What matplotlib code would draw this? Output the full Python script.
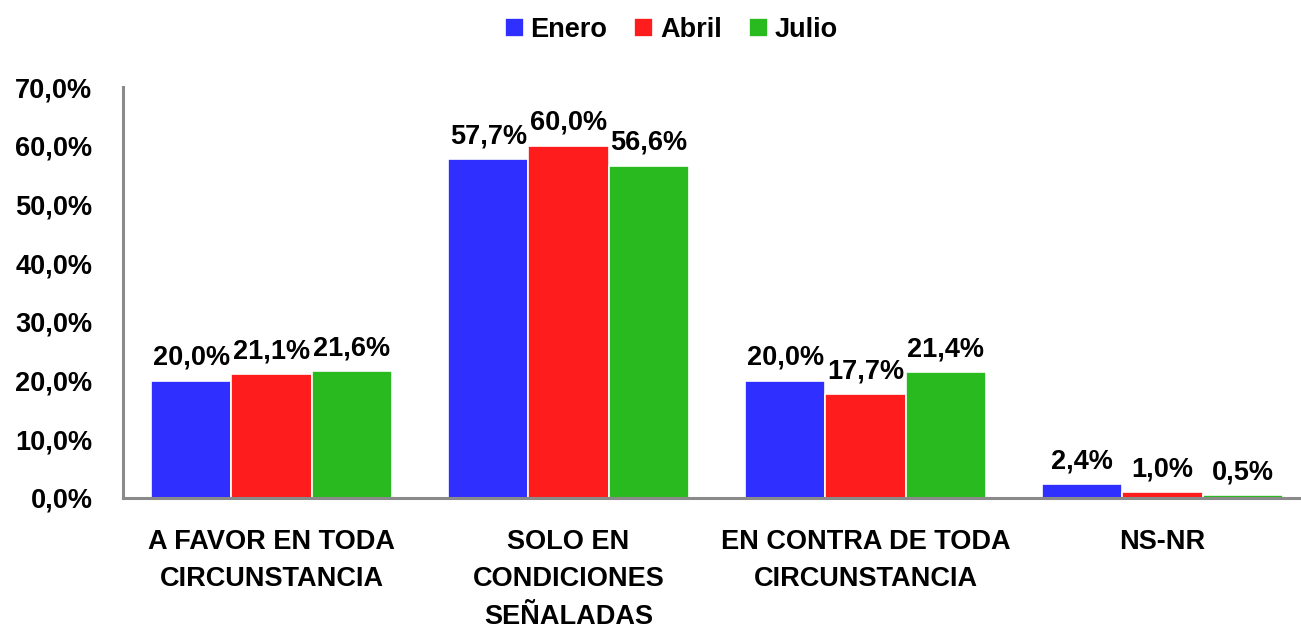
import matplotlib
matplotlib.use("Agg")
import matplotlib.pyplot as plt
import numpy as np

categories = ["A FAVOR EN TODA\nCIRCUNSTANCIA", "SOLO EN\nCONDICIONES\nSEÑALADAS",
              "EN CONTRA DE TODA\nCIRCUNSTANCIA", "NS-NR"]
series_names = ["Enero", "Abril", "Julio"]
enero = [20.0, 57.7, 20.0, 2.4]
abril = [21.1, 60.0, 17.7, 1.0]
julio = [21.6, 56.6, 21.4, 0.5]
yticks = [0, 10, 20, 30, 40, 50, 60, 70]

colors = ["#2F2FFF", "#FF1C1C", "#29BA1F"]

plt.rcParams['font.family'] = ['Liberation Sans', 'DejaVu Sans']
plt.rcParams['font.weight'] = 'bold'
FS = 19.5

fig = plt.figure(figsize=(13.01, 6.31), dpi=100)
ax = fig.add_axes([123/1301, 1-498/631, 1-123/1301, (498-87)/631])

x = np.arange(len(categories))
w = 0.27
for i, (vals, name, c) in enumerate(zip([enero, abril, julio], series_names, colors)):
    pos = x + (i - 1) * w
    ax.bar(pos, vals, width=w, color=c, edgecolor="white", linewidth=1.2, label=name)
    for xp, v in zip(pos, vals):
        ax.annotate(f"{v:.1f}%".replace(".", ","), (xp, v), xytext=(0, 7),
                    textcoords="offset points", ha="center", va="bottom",
                    fontsize=FS, fontweight="bold")

ax.set_xlim(-0.5, 3.466)
ax.set_ylim(0, 70)
ax.set_yticks(yticks)
ax.set_yticklabels([f"{t:.1f}%".replace(".", ",") for t in yticks], fontsize=FS, fontweight="bold")
ax.set_xticks(x)
ax.set_xticklabels(categories, fontsize=FS, fontweight="bold", linespacing=1.58)
ax.tick_params(axis="both", length=0)
ax.tick_params(axis="y", pad=22)
ax.tick_params(axis="x", pad=22)
for s in ["top", "right"]:
    ax.spines[s].set_visible(False)
for s in ["left", "bottom"]:
    ax.spines[s].set_color("#8A8A8A")
    ax.spines[s].set_linewidth(2.2)

fig.legend(loc="upper center", bbox_to_anchor=(0.516, 1.012), ncol=3, frameon=False,
           handlelength=0.7, handleheight=0.7, handletextpad=0.25,
           columnspacing=1.0, prop={"weight": "bold", "size": FS})

fig.savefig("out.png", dpi=100)
